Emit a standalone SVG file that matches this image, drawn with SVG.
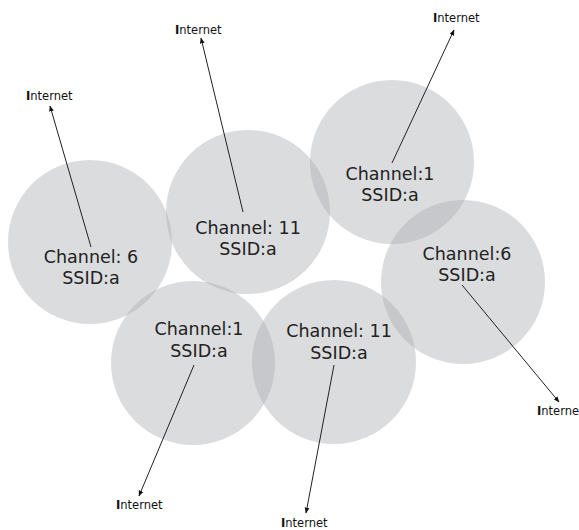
<svg xmlns="http://www.w3.org/2000/svg" width="579" height="530" viewBox="0 0 579 530">
  <style>
    .cell { fill: #a9abb0; fill-opacity: 0.42; stroke: none; }
    .lbl { font-family: "DejaVu Sans", "Liberation Sans", sans-serif; font-size: 17.5px; fill: #222; text-anchor: middle; }
    .net { font-family: "DejaVu Sans", "Liberation Sans", sans-serif; font-size: 11.5px; fill: #111; }
    .net tspan.b { font-weight: bold; }
    .link { stroke: #222; stroke-width: 1; fill: none; marker-end: url(#tip); }
  </style>
  <defs>
    <marker id="tip" viewBox="0 0 10 10" refX="9" refY="5" markerWidth="6" markerHeight="6" orient="auto" markerUnits="userSpaceOnUse">
      <path d="M0,1 L10,5 L0,9 z" fill="#111"/>
    </marker>
  </defs>
  <rect width="579" height="530" fill="#fff"/>

  <g id="ap-ch6-left">
    <circle class="cell" cx="90" cy="242" r="82"/>
    <text class="lbl" x="91" y="263">Channel: 6</text>
    <text class="lbl" x="91" y="284">SSID:a</text>
  </g>
  <g id="ap-ch11-top">
    <circle class="cell" cx="248" cy="212" r="82"/>
    <text class="lbl" x="248" y="234">Channel: 11</text>
    <text class="lbl" x="248" y="255">SSID:a</text>
  </g>
  <g id="ap-ch1-top">
    <circle class="cell" cx="392" cy="162" r="82"/>
    <text class="lbl" x="390" y="180">Channel:1</text>
    <text class="lbl" x="390" y="201">SSID:a</text>
  </g>
  <g id="ap-ch6-right">
    <circle class="cell" cx="463" cy="282" r="82"/>
    <text class="lbl" x="467" y="260">Channel:6</text>
    <text class="lbl" x="467" y="281">SSID:a</text>
  </g>
  <g id="ap-ch1-bottom">
    <circle class="cell" cx="193" cy="363" r="82"/>
    <text class="lbl" x="199" y="335">Channel:1</text>
    <text class="lbl" x="199" y="357">SSID:a</text>
  </g>
  <g id="ap-ch11-bottom">
    <circle class="cell" cx="334" cy="362" r="82"/>
    <text class="lbl" x="339" y="337">Channel: 11</text>
    <text class="lbl" x="339" y="359">SSID:a</text>
  </g>

  <g id="uplinks">
    <line class="link" x1="91" y1="247" x2="50" y2="106"/>
    <line class="link" x1="243" y1="212" x2="201" y2="38"/>
    <line class="link" x1="392" y1="163" x2="454" y2="30"/>
    <line class="link" x1="462" y1="285" x2="559" y2="402"/>
    <line class="link" x1="194" y1="365" x2="139" y2="496"/>
    <line class="link" x1="334" y1="365" x2="306" y2="513"/>
  </g>

  <g id="internet-labels">
    <text class="net" x="26" y="100"><tspan class="b">I</tspan>nternet</text>
    <text class="net" x="175" y="34"><tspan class="b">I</tspan>nternet</text>
    <text class="net" x="433" y="22"><tspan class="b">I</tspan>nternet</text>
    <text class="net" x="537" y="415"><tspan class="b">I</tspan>nterne</text>
    <text class="net" x="116" y="509"><tspan class="b">I</tspan>nternet</text>
    <text class="net" x="281" y="527"><tspan class="b">I</tspan>nternet</text>
  </g>
</svg>
